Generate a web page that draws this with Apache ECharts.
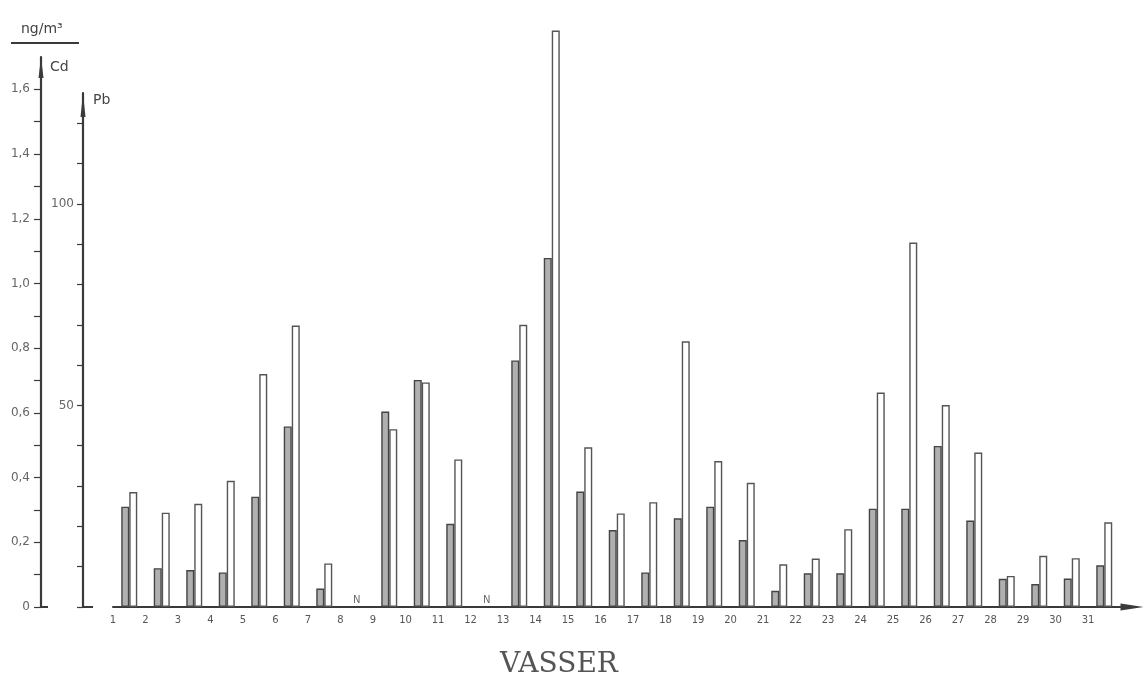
<!DOCTYPE html>
<html><head><meta charset="utf-8">
<script src="https://cdn.jsdelivr.net/npm/echarts@6/dist/echarts.min.js"></script>
<style>html,body{margin:0;padding:0;background:#fff}#c{width:1145px;height:689px}</style>
</head><body><div id="c"></div>
<script>
// ---- data ----
const days = ['1','2','3','4','5','6','7','8','9','10','11','12','13','14','15','16','17','18','19','20','21','22','23','24','25','26','27','28','29','30','31'];
const cdValues = [0.31,0.12,0.114,0.107,0.341,0.558,0.057,'-',0.604,0.702,0.257,'-',0.762,1.079,0.357,0.238,0.107,0.274,0.31,0.207,0.05,0.104,0.104,0.304,0.304,0.498,0.267,0.087,0.071,0.088,0.129];
const pbValues = [28.5,23.4,25.6,31.3,57.8,69.8,10.8,'-',44.1,55.7,36.6,'-',70.0,143.0,39.6,23.2,26.0,65.9,36.2,30.8,10.6,12.0,19.3,53.2,90.4,50.1,38.3,7.7,12.7,12.1,21.0];
const noteDays = ['8','12'];
const noteText = 'N';
const cdTicks = [0,0.1,0.2,0.3,0.4,0.5,0.6,0.7,0.8,0.9,1.0,1.1,1.2,1.3,1.4,1.5,1.6];
const cdTickLabels = [0,0.2,0.4,0.6,0.8,1.0,1.2,1.4,1.6];
const pbTicks = [0,10,20,30,40,50,60,70,80,90,100,110,120];
const pbTickLabels = [50,100];
const unitText = 'ng/m³';
const xTitle = 'VASSER';

// ---- chart ----
const axisColor = '#3a3a3a';
const chart = echarts.init(document.getElementById('c'), null, {renderer: 'canvas'});
const noteData = days.map(d => noteDays.includes(d) ? 0 : '-');
const empty = days.map(() => '-');

chart.setOption({
  animation: false,
  backgroundColor: '#fff',
  title: {
    text: xTitle, left: 495, top: 646,
    textStyle: {fontFamily: 'DejaVu Serif', fontSize: 28, fontWeight: 'normal', color: '#555'}
  },
  grid: [
    {left: 113, right: 24.5, top: 57, bottom: 82},
    {left: 113, right: 24.5, top: 93, bottom: 82}
  ],
  xAxis: [
    {
      type: 'category', gridIndex: 0, data: days, boundaryGap: true,
      axisLine: {lineStyle: {color: axisColor, width: 2}, symbol: ['none', 'triangle'], symbolSize: [7, 23], symbolOffset: [0, 11.5]},
      axisTick: {length: 4, lineStyle: {color: axisColor, width: 1.2}},
      axisLabel: {interval: 0, padding: [0, 32.5, 0, 0], fontSize: 10, color: '#555', margin: 8, fontFamily: 'DejaVu Sans'},
      splitLine: {show: false}
    },
    {type: 'category', gridIndex: 1, data: days, show: false}
  ],
  yAxis: [
    {
      type: 'value', gridIndex: 0, min: 0, max: 1.7, position: 'left', offset: 72,
      name: 'Cd', nameLocation: 'end', nameGap: -3,
      nameTextStyle: {align: 'left', verticalAlign: 'top', padding: [0, 0, 0, 9], fontSize: 14, color: '#444', fontFamily: 'DejaVu Sans'},
      axisLine: {show: true, lineStyle: {color: axisColor, width: 2.2}, symbol: ['none', 'triangle'], symbolSize: [5, 21], symbolOffset: [0, -10.5]},
      axisTick: {show: true, length: 7, customValues: cdTicks, lineStyle: {color: axisColor, width: 1.2}},
      axisLabel: {customValues: cdTickLabels, margin: 11, fontSize: 12, color: '#666', fontFamily: 'DejaVu Sans',
        formatter: v => v === 0 ? '0' : v.toFixed(1).replace('.', ',')},
      splitLine: {show: false}
    },
    {
      type: 'value', gridIndex: 1, min: 0, max: 127.5, position: 'left', offset: 30,
      name: 'Pb', nameLocation: 'end', nameGap: 0,
      nameTextStyle: {align: 'left', verticalAlign: 'top', padding: [0, 0, 0, 10], fontSize: 14, color: '#444', fontFamily: 'DejaVu Sans'},
      axisLine: {show: true, lineStyle: {color: axisColor, width: 2.2}, symbol: ['none', 'triangle'], symbolSize: [5, 24], symbolOffset: [0, -12]},
      axisTick: {show: true, length: 6, customValues: pbTicks, lineStyle: {color: axisColor, width: 1.2}},
      axisLabel: {customValues: pbTickLabels, margin: 9, fontSize: 12, color: '#666', fontFamily: 'DejaVu Sans'},
      splitLine: {show: false}
    }
  ],
  series: [
    {name: 'Cd', type: 'bar', xAxisIndex: 0, yAxisIndex: 0, data: cdValues, barWidth: 8, barGap: '0%', clip: false,
      itemStyle: {color: '#b0b0b0', borderColor: '#444', borderWidth: 1.4}},
    {type: 'bar', xAxisIndex: 0, yAxisIndex: 0, data: empty, barWidth: 8, barGap: '0%', silent: true},
    {type: 'bar', xAxisIndex: 1, yAxisIndex: 1, data: empty, barWidth: 8, barGap: '0%', silent: true},
    {name: 'Pb', type: 'bar', xAxisIndex: 1, yAxisIndex: 1, data: pbValues, barWidth: 8, barGap: '0%', clip: false,
      itemStyle: {color: '#fff', borderColor: '#555', borderWidth: 1.4}},
    {type: 'scatter', xAxisIndex: 0, yAxisIndex: 0, data: noteData, symbol: 'circle', symbolSize: 1, clip: false,
      itemStyle: {color: 'rgba(0,0,0,0)'}, silent: true,
      label: {show: true, position: 'top', distance: 1, formatter: noteText, fontSize: 10, color: '#444', fontFamily: 'DejaVu Sans'}}
  ],
  graphic: [
    {type: 'text', left: 21, top: 22, style: {text: unitText, fontSize: 14, fill: '#444', fontFamily: 'DejaVu Sans'}},
    {type: 'line', shape: {x1: 11, y1: 43, x2: 79, y2: 43}, style: {stroke: axisColor, lineWidth: 2}}
  ]
});

// small base marks crossing each vertical axis at zero
const zeroY = chart.convertToPixel({yAxisIndex: 0}, 0);
const cdX = 113 - 72, pbX = 113 - 30;
chart.setOption({
  graphic: [
    {type: 'text', left: 21, top: 22, style: {text: unitText, fontSize: 14, fill: '#444', fontFamily: 'DejaVu Sans'}},
    {type: 'line', shape: {x1: 11, y1: 43, x2: 79, y2: 43}, style: {stroke: axisColor, lineWidth: 2}},
    {type: 'line', shape: {x1: cdX, y1: zeroY, x2: cdX + 7, y2: zeroY}, style: {stroke: axisColor, lineWidth: 2}},
    {type: 'line', shape: {x1: pbX, y1: zeroY, x2: pbX + 10, y2: zeroY}, style: {stroke: axisColor, lineWidth: 2}}
  ]
});
</script>
</body></html>
